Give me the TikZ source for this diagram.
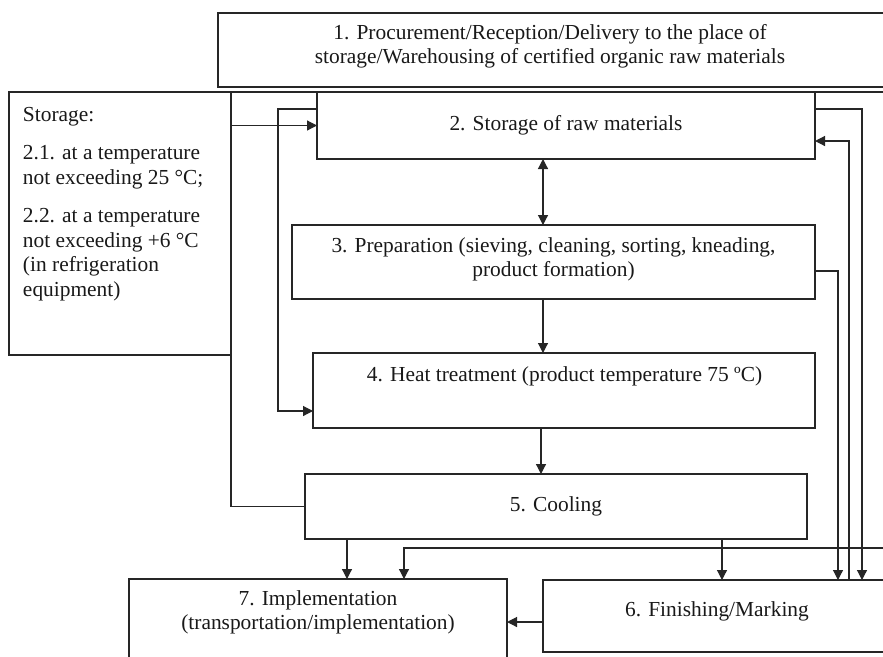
\documentclass[tikz,border=0pt]{standalone}
\usepackage{fontspec}
\setmainfont{Liberation Serif}
\usetikzlibrary{arrows.meta}
\newcommand\dfont{\fontsize{21.4}{24.5}\selectfont}
\begin{document}
\begin{tikzpicture}[x=1pt,y=-1pt,
  box/.style={draw=black!85, line width=1.2pt, inner sep=0pt, outer sep=0pt, anchor=north west},
  txt/.style={inner sep=0pt, outer sep=0pt, align=center, font=\dfont, text=black!90},
  ln/.style={line width=1.2pt, draw=black!85},
  arr/.style={ln, -{Triangle[length=10pt,width=10pt]}},
  dbl/.style={ln, {Triangle[length=10pt,width=10pt]}-{Triangle[length=10pt,width=10pt]}}]
\useasboundingbox (0,0) rectangle (883,656);
\clip (0,0) rectangle (883,656);
\fill[white] (0,0) rectangle (883,656);
% boxes
\node[box, minimum width=668pt, minimum height=74pt] (b1) at (218,13) {};
\node[box, minimum width=222pt, minimum height=263pt] (store) at (9,92) {};
\node[box, minimum width=498pt, minimum height=67pt] (b2) at (317,92) {};
\node[box, minimum width=523pt, minimum height=74pt] (b3) at (292,225) {};
\node[box, minimum width=502pt, minimum height=75pt] (b4) at (313,353) {};
\node[box, minimum width=502pt, minimum height=65pt] (b5) at (305,474) {};
\node[box, minimum width=348pt, minimum height=72pt] (b6) at (543,580) {};
\node[box, minimum width=378pt, minimum height=85pt] (b7) at (129,579) {};
% texts
\node[txt] (t1) at (550,46.5) {\strut 1. Procurement/Reception/Delivery to the place of\\\strut storage/Warehousing of certified organic raw materials};
\node[txt, anchor=north west, align=left] (ts) at (23,103.85) {\strut Storage:\\[14pt]
\strut 2.1. at a temperature\\
\strut not exceeding 25 °C;\\[14pt]
\strut 2.2. at a temperature\\
\strut not exceeding +6 °C\\
\strut (in refrigeration\\
\strut equipment)};
\node[txt] (t2) at (b2.center) {\strut 2. Storage of raw materials};
\node[txt] (t3) at (553.5,259.5) {\strut 3. Preparation (sieving, cleaning, sorting, kneading,\\\strut product formation)};
\node[txt] (t4) at (564.5,377) {\strut 4. Heat treatment (product temperature 75 ºC)};
\node[txt] (t5) at (b5.center) {\strut 5. Cooling};
\node[txt] (t6) at (717,612) {\strut 6. Finishing/Marking};
\node[txt] (t7) at (318,612.5) {\strut 7. Implementation\\\strut (transportation/implementation)};
% helper coordinates
\coordinate (xA) at (543,0);
\coordinate (xB) at (541,0);
\coordinate (xC) at (347,0);
\coordinate (xD) at (404,0);
\coordinate (xE) at (722,0);
\coordinate (xF) at (838,0);
\coordinate (xG) at (849,0);
\coordinate (xH) at (862,0);
\coordinate (cL) at (278,411);
\coordinate (rE) at (884,548);
% connectors
\draw[ln] (store.north east) -- (b2.north west);
\draw[ln] (b2.north east) -- (b2.north east -| rE);
\draw[arr] (b2.west -| store.east) -- (b2.west);
\draw[arr] ([yshift=16.5pt]b2.west) -| (cL) -- (cL -| b4.west);
\draw[ln] (store.south east) |- (b5.west);
\draw[dbl] (b2.south -| xA) -- (b3.north -| xA);
\draw[arr] (b3.south -| xA) -- (b4.north -| xA);
\draw[arr] (b4.south -| xB) -- (b5.north -| xB);
\draw[arr] (b5.south -| xC) -- (b7.north -| xC);
\draw[arr] (rE) -| (b7.north -| xD);
\draw[arr] (b5.south -| xE) -- (b6.north -| xE);
\draw[arr] ([yshift=-9pt]b3.east) -| (b6.north -| xF);
\draw[arr] (b6.north -| xG) |- ([yshift=-15.5pt]b2.east);
\draw[arr] ([yshift=16.5pt]b2.east) -| (b6.north -| xH);
\draw[arr] ([yshift=-6pt]b6.west) -- ([yshift=-6pt]b6.west -| b7.east);
\end{tikzpicture}
\end{document}
